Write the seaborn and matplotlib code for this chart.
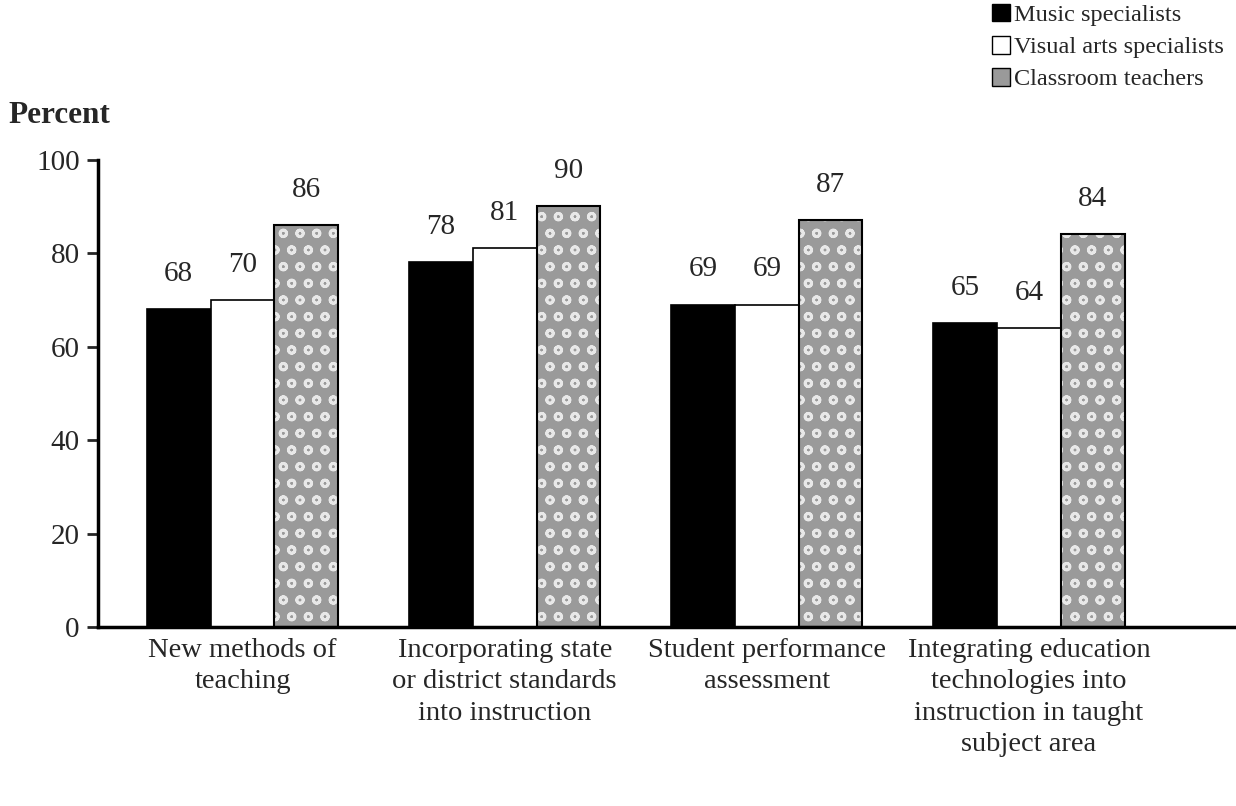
import pandas as pd
import seaborn as sns
import matplotlib.pyplot as plt
from matplotlib.patches import Patch, Rectangle

categories = [
    "New methods of\nteaching",
    "Incorporating state\nor district standards\ninto instruction",
    "Student performance\nassessment",
    "Integrating education\ntechnologies into\ninstruction in taught\nsubject area",
]
groups = ["Music specialists", "Visual arts specialists", "Classroom teachers"]
music = [68, 78, 69, 65]
visual = [70, 81, 69, 64]
classroom = [86, 90, 87, 84]

sns.set_style("white")
plt.rcParams["font.family"] = ["Liberation Serif", "DejaVu Serif"]
plt.rcParams["hatch.linewidth"] = 2.0

rows = []
for i, c in enumerate(categories):
    rows.append((c, groups[0], music[i]))
    rows.append((c, groups[1], visual[i]))
    rows.append((c, groups[2], classroom[i]))
df = pd.DataFrame(rows, columns=["category", "group", "value"])

fig = plt.figure(figsize=(12.36, 8.06), dpi=100)
ax = fig.add_axes([0.079, 0.222, 0.921, 0.58])
palette = {groups[0]: "black", groups[1]: "white", groups[2]: "#9a9a9a"}
sns.barplot(data=df, x="category", y="value", hue="group", palette=palette,
            width=0.73, edgecolor="black", linewidth=1.2, ax=ax, legend=False)

for j, cont in enumerate(ax.containers):
    for bar in cont:
        if j == 2:
            # white speckle texture, then a black outline on top
            bar.set_hatch("o")
            bar.set_edgecolor("#e8e8e8")
            ax.add_patch(Rectangle(bar.get_xy(), bar.get_width(), bar.get_height(),
                                   fill=False, edgecolor="black", linewidth=1.5, zorder=3))
        ax.annotate(f"{bar.get_height():.0f}",
                    (bar.get_x() + bar.get_width() / 2, bar.get_height()),
                    xytext=(0, 16), textcoords="offset points",
                    ha="center", va="bottom", fontsize=21)

ax.set_ylim(0, 100)
ax.set_xlim(-0.553, 3.79)
ax.set_yticks([0, 20, 40, 60, 80, 100])
ax.tick_params(axis="y", labelsize=21, length=8, width=2, direction="out", left=True, pad=5)
ax.tick_params(axis="x", labelsize=20.5, length=0, pad=8)
for lbl in ax.get_xticklabels():
    lbl.set_linespacing(1.33)
ax.set_xlabel("")
ax.set_ylabel("")
for s in ["top", "right"]:
    ax.spines[s].set_visible(False)
ax.spines["left"].set_linewidth(2.5)
ax.spines["bottom"].set_linewidth(2.5)
ax.spines["left"].set_color("black")
ax.spines["bottom"].set_color("black")
ax.spines["bottom"].set_zorder(4)

fig.text(0.007, 0.857, "Percent", fontsize=22.5, fontweight="bold", va="center")

handles = [Patch(facecolor="black", edgecolor="black"),
           Patch(facecolor="white", edgecolor="black"),
           Patch(facecolor="#9a9a9a", edgecolor="black")]
fig.legend(handles, groups, loc="upper right", bbox_to_anchor=(1.001, 1.012),
           frameon=False, fontsize=17.5, handlelength=0.75, handleheight=0.75,
           handletextpad=0.15, labelspacing=0.4, borderaxespad=0.15)

fig.savefig("out.png", dpi=100)
